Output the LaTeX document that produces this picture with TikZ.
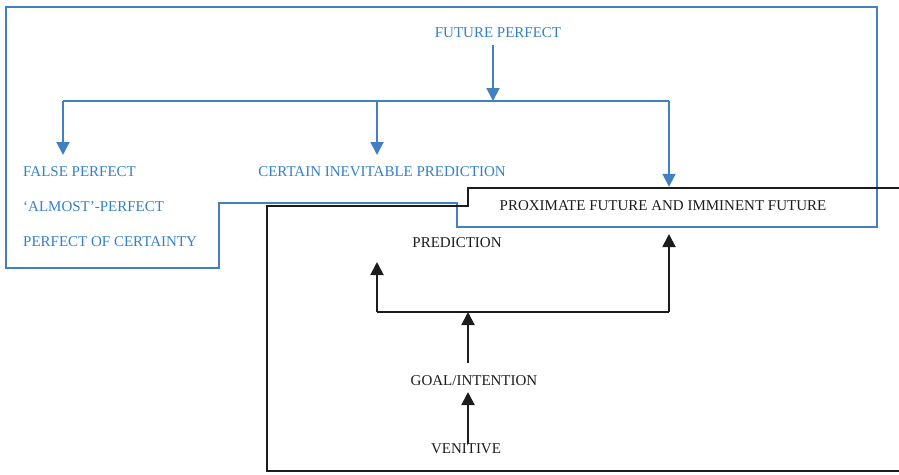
\documentclass[tikz,border=0pt]{standalone}
\usepackage{fontspec}
\setmainfont{Liberation Serif}
\usetikzlibrary{arrows.meta}
\definecolor{lineblue}{RGB}{66,128,196}
\definecolor{textblue}{RGB}{52,128,200}
\definecolor{lineblack}{RGB}{28,28,28}
\tikzset{
  bluetxt/.style = {text = textblue, font = \fontsize{15}{18}\selectfont, inner sep = 0pt},
  blacktxt/.style = {text = lineblack, font = \fontsize{15}{18}\selectfont, inner sep = 0pt},
  blueln/.style = {draw = lineblue, line width = 1.9pt},
  blackln/.style = {draw = lineblack, line width = 1.9pt},
  arrowhd/.style = {-{Triangle[width = 13pt, length = 13pt]}}
}
\begin{document}
\begin{tikzpicture}[x = 1pt, y = -1pt]
\useasboundingbox (0,0) rectangle (899,474);
% outlines
\draw[blueln] (6,7) -- (877,7) -- (877,227) -- (457,227) -- (457,203) -- (219,203) -- (219,268) -- (6,268) -- cycle;
\draw[blackln] (899,188) -- (468,188) -- (468,206) -- (267,206) -- (267,471) -- (899,471);
% texts
\node[bluetxt] (fut) at (498,33) {FUTURE PERFECT};
\node[bluetxt, anchor = west] (false) at (23,172) {FALSE PERFECT};
\node[bluetxt, anchor = west] (almost) at (23,207) {`ALMOST'-PERFECT};
\node[bluetxt, anchor = west] (certy) at (23,242) {PERFECT OF CERTAINTY};
\node[bluetxt] (cert) at (382,172) {CERTAIN INEVITABLE PREDICTION};
\node[blacktxt, minimum height = 38pt] (prox) at (663,206) {PROXIMATE FUTURE AND IMMINENT FUTURE};
\node[blacktxt] (pred) at (457,243) {PREDICTION};
\node[blacktxt] (goal) at (474,381) {GOAL/INTENTION};
\node[blacktxt] (ven) at (466,449) {VENITIVE};
% blue connectors
\coordinate (busC) at (493,101);
\coordinate (busL) at (63,101);
\coordinate (busM) at (377,101);
\coordinate (busR) at (669,101);
\coordinate (falsetop) at (63,155);
\coordinate (certtop) at (377,155);
\draw[blueln, arrowhd] (busC |- 0,45) -- (busC);
\draw[blueln] (busL) -- (busR);
\draw[blueln, arrowhd] (busL) -- (falsetop);
\draw[blueln, arrowhd] (busM) -- (certtop);
\draw[blueln, arrowhd] (busR) -- (busR |- prox.north);
% black connectors
\coordinate (lowL) at (377,312);
\coordinate (lowM) at (468,312);
\coordinate (lowR) at (669,312);
\coordinate (predtip) at (377,262);
\coordinate (proxtip) at (669,234);
\draw[blackln] (lowL) -- (lowR);
\draw[blackln, arrowhd] (lowL) -- (predtip);
\draw[blackln, arrowhd] (lowR) -- (proxtip);
\draw[blackln, arrowhd] (lowM |- 0,363) -- (lowM);
\draw[blackln, arrowhd] (lowM |- ven.north) -- (lowM |- 0,392);
\end{tikzpicture}
\end{document}
